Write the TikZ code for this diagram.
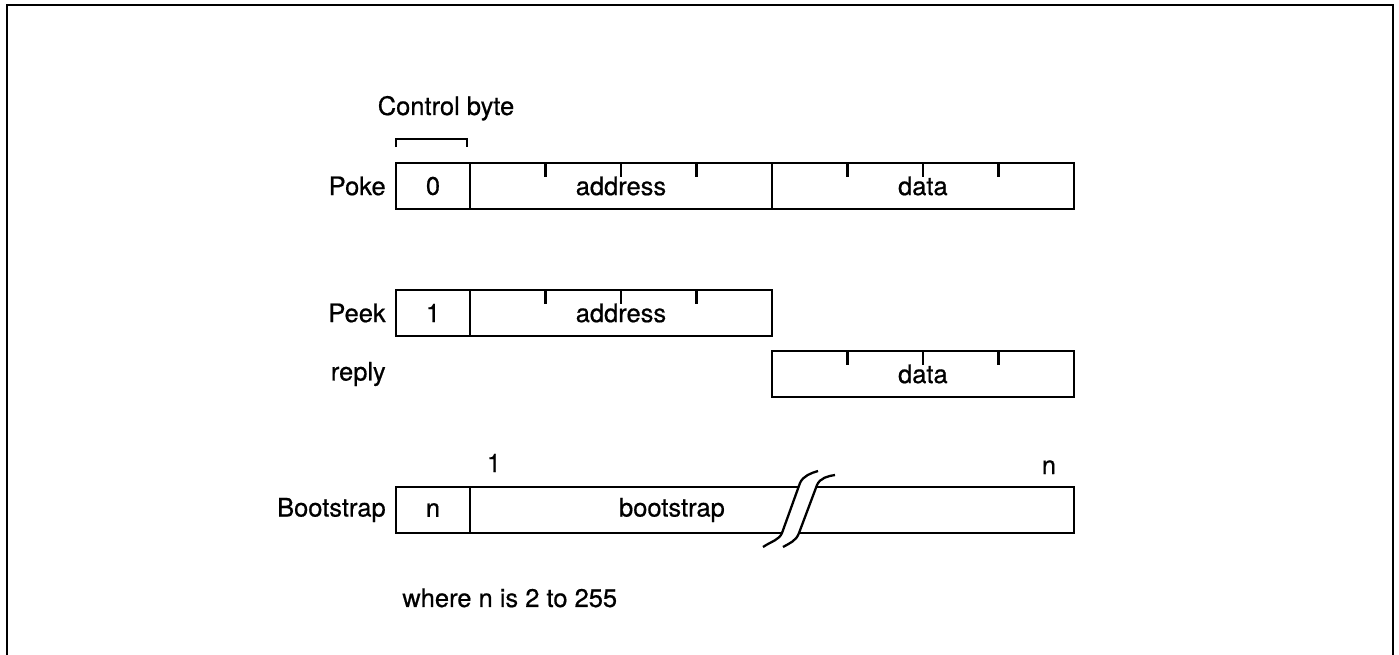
\documentclass[tikz,border=0pt]{standalone}
\usepackage{fontspec}
\setmainfont{TeX Gyre Heros}[FakeBold=0.6]
\usetikzlibrary{positioning, calc}
\newcommand{\Lbl}{\fontsize{14.5}{17}\selectfont}
\tikzset{
    field/.style={draw, line width=1.1pt, minimum height=0.92cm, inner sep=0pt, outer sep=0pt, font=\Lbl},
    ctrl/.style={field, minimum width=1.48cm},
    word/.style={field, minimum width=6.04cm},
    longword/.style={field, minimum width=12.08cm},
    rowname/.style={anchor=east, inner sep=0pt, font=\Lbl},
    note/.style={inner sep=0pt, font=\Lbl},
    tick/.style={line width=1.3pt},
}

\begin{document}
\begin{tikzpicture}[x=0.02cm, y=-0.02cm]
    \useasboundingbox (0,0) rectangle (1399,655);
    \draw[line width=1.4pt] (7,655) -- (7,5) -- (1393,5) -- (1393,655);

    \node[ctrl] (pokeC) at (433,186) {0};
    \node[word, right=0pt of pokeC] (pokeA) {address};
    \node[word, right=0pt of pokeA] (pokeD) {data};
    \node[rowname, left=0.2cm of pokeC] {Poke};

    \draw[tick] ([yshift=0.32cm]pokeC.north west) -- ++(0,-8) -| ([xshift=-0.06cm, yshift=0.32cm]pokeC.north east);
    \node[note, anchor=base] (ctrlName) at (446,115) {Control byte};

    \node[ctrl] (peekC) at (433,313) {1};
    \node[word, right=0pt of peekC] (peekA) {address};
    \node[word, below=0.3cm of peekA.south east, anchor=north west] (replyD) {data};
    \node[rowname, left=0.2cm of peekC] {Peek};
    \coordinate (replyL) at (peekC.west |- replyD.west);
    \node[rowname, left=0.2cm of replyL] {reply};

    \foreach \n in {pokeA, pokeD, peekA, replyD}
      \foreach \f in {0.25, 0.5, 0.75}
        \draw[tick] ($(\n.north west)!\f!(\n.north east)$) -- ++(0,14);

    \node[ctrl] (bootC) at (433,510) {n};
    \node[longword, right=0pt of bootC] (bootB) {};
    \node[note] (bootT) at ($(bootB.center)+(-100,0)$) {bootstrap};
    \node[rowname, left=0.2cm of bootC] {Bootstrap};
    \node[note, anchor=base] (first) at ([xshift=0.48cm, yshift=0.3cm]bootB.north west) {1};
    \node[note, anchor=base] (last) at ([xshift=-0.5cm, yshift=0.26cm]bootB.north east) {n};

    \fill[white] (763,547) .. controls (772,541) and (779,540) .. (782,533) -- (800,483)
      .. controls (803,476) and (811,473) .. (818,471) -- (835,475)
      .. controls (828,476) and (820,478) .. (817,485) -- (799,533)
      .. controls (796,541) and (790,543) .. (783,547) -- cycle;
    \draw[tick] (763,547) .. controls (772,541) and (779,540) .. (782,533) -- (800,483)
      .. controls (803,476) and (811,473) .. (818,471);
    \draw[tick] (783,547) .. controls (790,543) and (796,541) .. (799,533) -- (817,485)
      .. controls (820,478) and (828,476) .. (835,475);

    \node[note, anchor=base west] (range) at ([xshift=0.12cm, yshift=-1.48cm]bootC.south west) {where n is 2 to 255};
\end{tikzpicture}
\end{document}
